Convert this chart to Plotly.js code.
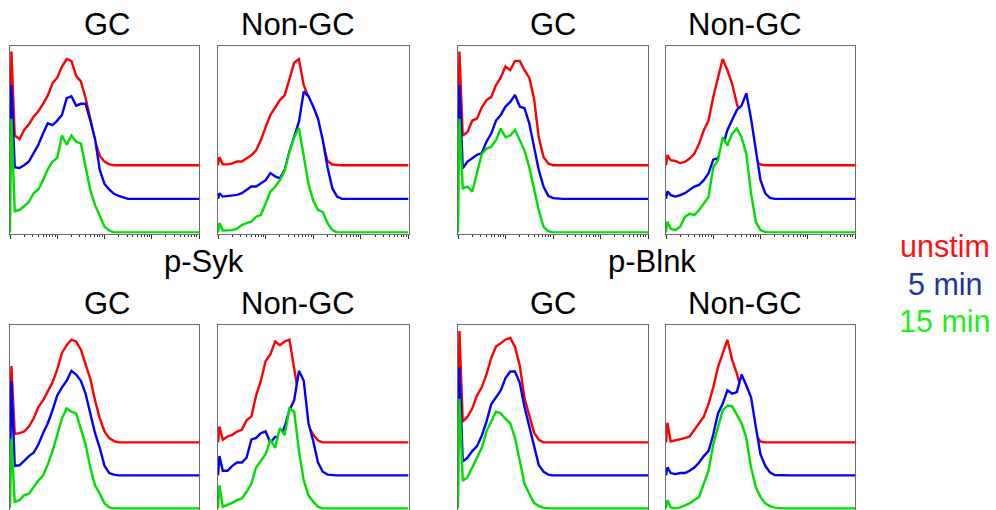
<!DOCTYPE html>
<html>
<head>
<meta charset="utf-8">
<script src="https://cdn.plot.ly/plotly-3.0.1.min.js"></script>
<style>html,body{margin:0;padding:0;background:#fff;}#chart{width:996px;height:510px;}</style>
</head>
<body>
<div id="chart"></div>
<script>
// x positions (log10 fluorescence, decades) shared by every histogram
const logFluor = [0, 0.03, 0.1, 0.2, 0.3, 0.4, 0.5, 0.6, 0.7, 0.8, 0.9, 1.0,
  1.1, 1.2, 1.3, 1.4, 1.5, 1.6, 1.7, 1.8, 1.9, 2.0,
  2.1, 2.2, 2.3, 2.4, 2.5, 2.6, 4.0];

const seriesNames = ['unstim', '5 min', '15 min'];
const panelTitles = ['GC', 'Non-GC', 'GC', 'Non-GC', 'GC', 'Non-GC', 'GC', 'Non-GC'];
const groupLabels = ['p-Syk', 'p-Blnk'];

// histogram heights (% of mode) per panel
const sykGC1_unstim = [0, 61, 16, 14, 19, 22, 26, 29, 33, 37.5, 44, 47, 53, 57, 56, 48, 45, 36, 25, 13, 5, 2, 0.5, 0, 0, 0, 0, 0, 0];
const sykGC1_5min   = [0, 61, 17, 16.5, 18, 20, 24.5, 29, 35, 40.5, 39.6, 42, 45, 54, 55, 50, 51, 51, 42, 32, 15.5, 8, 5, 2.7, 1.6, 0.7, 0, 0, 0];
const sykGC1_15min  = [0, 61, 11.4, 12, 14, 16.4, 21, 23, 28, 34, 38, 40, 52, 47, 52, 48.6, 47.7, 35, 22.7, 14.6, 8.4, 3, 1, 0, 0, 0, 0, 0, 0];

const sykNon1_unstim = [0, 4.5, 0.5, 0.5, 1, 2, 2, 3.6, 5.4, 8, 13.4, 20.5, 27, 31, 35, 37.5, 47, 55, 57, 43, 36.6, 30, 23, 11.6, 2.3, 0.4, 0, 0, 0];
const sykNon1_5min   = [0, 3, 1.2, 1.6, 2.1, 2.1, 3, 4.8, 6.6, 6.6, 8.4, 10, 13.8, 12, 11, 15.5, 25.4, 33, 41.4, 57.5, 55, 49.5, 43, 31.6, 17, 5.7, 1.2, 0, 0];
const sykNon1_15min  = [0, 5, 1, 1, 1.2, 2, 4, 5, 5.7, 8.4, 9.3, 15.5, 21.8, 24.5, 28, 33, 43, 51, 56, 41, 26, 17, 12, 11, 5, 1.2, 0, 0, 0];

const blnkGC1_unstim = [0, 61, 16, 17.9, 24, 25, 31, 35, 36.6, 43, 47, 53, 51, 56, 56, 51, 47, 36, 15, 4.5, 1, 0, 0, 0, 0, 0, 0, 0, 0];
const blnkGC1_5min   = [0, 61, 16.4, 20, 21.8, 23.6, 24.5, 30.7, 35, 42, 45, 49.5, 52, 55.7, 49.5, 48.6, 40.5, 28, 15.5, 6.6, 1.6, 0.4, 0, 0, 0, 0, 0, 0, 0];
const blnkGC1_15min  = [0, 61, 23.6, 24.5, 21.8, 31.6, 42, 45, 46, 49.5, 55.7, 51, 52, 55, 49.5, 44, 35, 22.7, 12, 3, 0.7, 0, 0, 0, 0, 0, 0, 0, 0];

const blnkNon1_unstim = [0, 5.4, 2.7, 2.3, 1.2, 1.8, 3.6, 6.2, 11.6, 18.8, 24, 36.6, 47, 57, 51, 43.75, 33, 24, 16, 8, 2, 0.5, 0, 0, 0, 0, 0, 0, 0];
const blnkNon1_5min   = [0, 4, 2, 1.2, 2, 3, 4.8, 6.6, 7.5, 10, 13.75, 21, 21.8, 28, 37, 42, 47.7, 50, 56.6, 43, 26, 10, 3, 0.5, 0, 0, 0, 0, 0];
const blnkNon1_15min  = [0, 5.7, 2, 1.2, 3, 8.4, 10, 9.3, 12, 15.5, 19, 35, 38.75, 51, 46.6, 53, 55.7, 51, 42, 21, 5.7, 1.2, 0.3, 0, 0, 0, 0, 0, 0];

const sykGC2_unstim = [0, 41.6, 4.6, 5, 5.9, 8.6, 13, 19.3, 22.9, 28, 32.7, 39.8, 48.75, 53, 56, 55, 50.5, 42.5, 34.5, 22.9, 13, 5.9, 2.3, 0.7, 0, 0, 0, 0, 0];
const sykGC2_5min   = [0, 51.6, 5.2, 5.5, 7.9, 10.5, 12.3, 16.8, 23, 28.4, 35.5, 43.6, 48, 51.6, 57, 55, 51.6, 44.5, 33.75, 23, 15, 5.2, 1.25, 0.4, 0, 0, 0, 0, 0];
const sykGC2_15min  = [0, 38, 3.6, 4.5, 7.1, 8, 11.6, 15.2, 17.9, 24, 31.25, 40, 49, 54.5, 52.7, 51.8, 43.75, 34.8, 22.3, 12.5, 8, 2.7, 0.5, 0, 0, 0, 0, 0, 0];

const sykNon2_unstim = [0, 8.6, 1.4, 3.2, 4.1, 5.9, 6.8, 12, 14, 25.5, 33.6, 44.3, 47.9, 55, 53, 55, 56, 39, 24.6, 15.7, 8.9, 4.1, 1, 0, 0, 0, 0, 0, 0];
const sykNon2_5min   = [0, 10.5, 2.5, 2.5, 5.2, 7, 7, 9.6, 19.5, 20.4, 23, 24, 17.7, 21, 20.4, 26.6, 35.5, 41, 57, 51.6, 28.4, 18.6, 7, 2, 0.4, 0, 0, 0, 0];
const sykNon2_15min  = [0, 12.5, 0.9, 1.8, 3, 4.5, 5.4, 8.9, 13.4, 22.3, 25.9, 29.5, 37.5, 33, 43.75, 40, 54.5, 52.7, 31.25, 15.2, 7.1, 3.6, 0.9, 0, 0, 0, 0, 0, 0];

const blnkGC2_unstim = [0, 60.7, 11.25, 14, 18.4, 25.5, 30, 37, 46, 52.3, 54, 56, 57, 52, 42, 24, 14.8, 5.4, 1.4, 0, 0, 0, 0, 0, 0, 0, 0, 0, 0];
const blnkGC2_5min   = [0, 58.75, 7.5, 9.6, 13.2, 15.9, 21.6, 29.3, 38.75, 42.3, 46.25, 53, 56.6, 56.6, 50.5, 37.3, 26.6, 15, 5.7, 2, 0.4, 0, 0, 0, 0, 0, 0, 0, 0];
const blnkGC2_15min  = [0, 59.8, 15, 17, 22.3, 28, 33, 42, 47.3, 52.7, 51.8, 48.75, 46.4, 38.4, 25.9, 13.4, 8, 3, 1.25, 0.4, 0, 0, 0, 0, 0, 0, 0, 0, 0];

const blnkNon2_unstim = [0, 10.7, 0.5, 1, 1.8, 2.3, 3.2, 6.8, 10.4, 14, 21, 30, 41, 48, 56, 45, 37.5, 28, 19, 12, 4, 0.5, 0, 0, 0, 0, 0, 0, 0];
const blnkNon2_5min   = [0, 4.3, 1.25, 0.7, 1.25, 1.25, 2.5, 4.3, 7, 10.5, 13.2, 22.3, 33.75, 39, 46.4, 44.6, 45.4, 55, 49, 42.5, 26.6, 11.4, 5.2, 1.6, 0.2, 0, 0, 0, 0];
const blnkNon2_15min  = [0, 4.5, 0.5, 0, 0.5, 1.8, 2.7, 4.5, 6.25, 13.4, 20.5, 34.8, 43.75, 53.6, 56, 55.7, 51, 46.4, 38.4, 22.3, 11.6, 6.25, 2.7, 1.25, 0.4, 0, 0, 0, 0];

const panels = [
  [sykGC1_unstim, sykGC1_5min, sykGC1_15min],
  [sykNon1_unstim, sykNon1_5min, sykNon1_15min],
  [blnkGC1_unstim, blnkGC1_5min, blnkGC1_15min],
  [blnkNon1_unstim, blnkNon1_5min, blnkNon1_15min],
  [sykGC2_unstim, sykGC2_5min, sykGC2_15min],
  [sykNon2_unstim, sykNon2_5min, sykNon2_15min],
  [blnkGC2_unstim, blnkGC2_5min, blnkGC2_15min],
  [blnkNon2_unstim, blnkNon2_5min, blnkNon2_15min]
];

// ---- styling / layout ----
const W = 996, H = 510;
const lineColors = ['#ff0000', '#0000ff', '#00dd00'];
const labelColors = ['#ff1010', '#2233a0', '#22ee22'];
const offsets = [36, 18, 0];
const colPx = [[10, 199], [218, 408.5], [458, 648], [666, 855]];
const titleCx = [107, 298, 553, 745];
const rowPx = [[46, 233.5], [325, 510]];
const yRanges = [[-0.6, 100], [-0.9, 100]];
const FONT = 'Liberation Sans, Arial, sans-serif';
const FS = 31;

const minorVals = [];
for (let d = 0; d < 4; d++) for (let k = 2; k <= 9; k++) minorVals.push(d + Math.log10(k));

const traces = [];
const layout = {
  width: W, height: H,
  margin: {l: 0, r: 0, t: 0, b: 0},
  paper_bgcolor: '#fff', plot_bgcolor: '#fff',
  showlegend: false,
  annotations: [],
  font: {family: FONT}
};

panels.forEach((series, p) => {
  const idx = p + 1;
  const row = p < 4 ? 0 : 1;
  const col = p % 4;
  const xa = 'xaxis' + idx, ya = 'yaxis' + idx;
  layout[xa] = {
    domain: [colPx[col][0] / W, colPx[col][1] / W],
    range: [0, 4], fixedrange: true,
    anchor: 'y' + idx,
    showgrid: false, zeroline: false, showticklabels: false,
    showline: true, linecolor: '#6a6a6a', linewidth: 1.3
  };
  if (row === 0) {
    Object.assign(layout[xa], {
      mirror: true, ticks: 'outside', tickvals: [0, 1, 2, 3, 4],
      ticklen: 4, tickwidth: 1, tickcolor: '#333',
      minor: {tickvals: minorVals, ticks: 'outside', ticklen: 2, tickwidth: 1, tickcolor: '#333'}
    });
  } else {
    Object.assign(layout[xa], {side: 'top', mirror: false, ticks: ''});
  }
  layout[ya] = {
    domain: [1 - rowPx[row][1] / H, 1 - rowPx[row][0] / H],
    range: yRanges[row], fixedrange: true,
    anchor: 'x' + idx,
    showgrid: false, zeroline: false, showticklabels: false, ticks: '',
    showline: true, mirror: true, linecolor: '#6a6a6a', linewidth: 1.3
  };
  series.forEach((vals, s) => {
    traces.push({
      type: 'scatter', mode: 'lines',
      x: logFluor, y: vals.map(v => v + offsets[s]),
      xaxis: 'x' + idx, yaxis: 'y' + idx,
      name: seriesNames[s],
      line: {color: lineColors[s], width: 2.4},
      fill: 'tozeroy', fillcolor: '#ffffff',
      hoverinfo: 'skip'
    });
  });
  // panel title
  layout.annotations.push({
    text: panelTitles[p], xref: 'paper', yref: 'paper',
    x: titleCx[col] / W,
    y: 1 - (row === 0 ? 24 : 303) / H,
    xanchor: 'center', yanchor: 'middle', showarrow: false,
    font: {family: FONT, size: FS, color: '#000'}
  });
});

// group labels
[[204, groupLabels[0]], [652, groupLabels[1]]].forEach(([xc, t]) => {
  layout.annotations.push({
    text: t, xref: 'paper', yref: 'paper', x: xc / W, y: 1 - 261 / H,
    xanchor: 'center', yanchor: 'middle', showarrow: false,
    font: {family: FONT, size: FS, color: '#000'}
  });
});

// colour key
const keyY = [246, 284, 321];
seriesNames.forEach((n, s) => {
  layout.annotations.push({
    text: n, xref: 'paper', yref: 'paper', x: 945 / W, y: 1 - keyY[s] / H,
    xanchor: 'center', yanchor: 'middle', showarrow: false,
    font: {family: FONT, size: 30.5, color: labelColors[s]}
  });
});

Plotly.newPlot('chart', traces, layout, {staticPlot: true, displayModeBar: false});
</script>
</body>
</html>
